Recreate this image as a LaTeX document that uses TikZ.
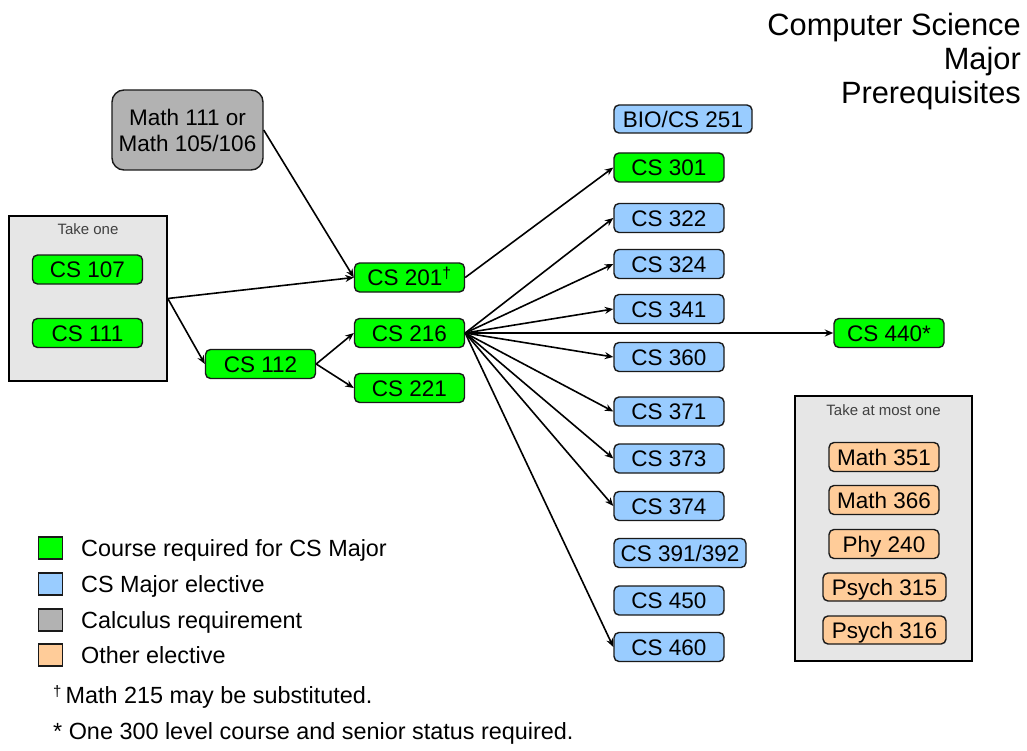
\documentclass[tikz,border=0pt]{standalone}
\usepackage{fontspec}
\setmainfont{Liberation Sans}
\usetikzlibrary{arrows.meta}

\definecolor{reqgreen}{HTML}{00FF00}
\definecolor{elecblue}{HTML}{99CCFF}
\definecolor{calcgray}{HTML}{B2B2B2}
\definecolor{othertan}{HTML}{FFCC99}
\definecolor{panelgray}{HTML}{E6E6E6}
\definecolor{edgeink}{HTML}{1A1A1A}

\begin{document}
\begin{tikzpicture}[x=1pt,y=-1pt,
  course/.style={draw=edgeink, line width=1.4pt, rounded corners=5pt, inner sep=0pt,
    minimum width=110pt, minimum height=29pt, text height=16.1pt, text depth=0pt,
    font=\fontsize{22.5}{26}\selectfont},
  req/.style={course, fill=reqgreen},
  elec/.style={course, fill=elecblue},
  other/.style={course, fill=othertan},
  panel/.style={draw=black, line width=1.6pt, fill=panelgray, inner sep=0pt},
  paneltitle/.style={font=\fontsize{15}{18}\selectfont, text=black!75, inner sep=0pt},
  link/.style={line width=1.6pt, -{Stealth[length=8.5pt,width=7pt]}},
  keybox/.style={draw=edgeink, line width=1.4pt, minimum width=24pt, minimum height=22pt, inner sep=0pt},
  keytext/.style={anchor=base west, inner sep=0pt, font=\fontsize{23.4}{27}\selectfont},
  titletext/.style={anchor=base east, inner sep=0pt, font=\fontsize{30.8}{34}\selectfont}
]
% page
\fill[white] (0,0) rectangle (1027,751);
\useasboundingbox (0,0) rectangle (1027,751);

% title
\node[titletext] (title1) at (1021,36) {Computer Science};
\node[titletext] (title2) at (1021,70) {Major};
\node[titletext] (title3) at (1021,104) {Prerequisites};

% calculus requirement
\node[draw=edgeink, line width=1.4pt, rounded corners=12pt, fill=calcgray, inner sep=0pt,
  minimum width=151pt, minimum height=80pt, align=center,
  font=\fontsize{22.5}{26}\selectfont] (math) at (187.5,130) {Math 111 or\\Math 105/106};

% introductory choice
\node[panel, minimum width=158pt, minimum height=165pt] (takeone) at (88,298.5) {};
\node[paneltitle] (takeonelabel) at (88,229) {Take one};
\node[req] (cs107) at (87.5,269.5) {CS 107};
\node[req] (cs111) at (87.5,333) {CS 111};

% core sequence
\node[req] (cs112) at (260.5,364) {CS 112};
\node[req] (cs201) at (409.5,277.5) {CS 201\textsuperscript{†}};
\node[req] (cs216) at (409.5,333) {CS 216};
\node[req] (cs221) at (409.5,388) {CS 221};

% upper-level courses
\node[elec, minimum width=138pt, minimum height=28pt] (bio251) at (683,119) {BIO/CS 251};
\node[req] (cs301) at (669,167.5) {CS 301};
\node[elec] (cs322) at (669,218) {CS 322};
\node[elec] (cs324) at (669,264) {CS 324};
\node[elec] (cs341) at (669,309) {CS 341};
\node[elec] (cs360) at (669,357) {CS 360};
\node[elec] (cs371) at (669,411.5) {CS 371};
\node[elec] (cs373) at (669,458.5) {CS 373};
\node[elec] (cs374) at (669,506) {CS 374};
\node[elec, minimum width=132pt] (cs391) at (680,553) {CS 391/392};
\node[elec] (cs450) at (669,600.5) {CS 450};
\node[elec] (cs460) at (669,647) {CS 460};
\node[req] (cs440) at (889,333) {CS 440*};

% outside electives
\node[panel, minimum width=177pt, minimum height=265pt] (atmost) at (883.5,528.5) {};
\node[paneltitle] (atmostlabel) at (883.5,410) {Take at most one};
\node[other] (math351) at (884,457) {Math 351};
\node[other] (math366) at (884,500) {Math 366};
\node[other] (phy240) at (884,544) {Phy 240};
\node[other, minimum width=123pt, minimum height=28pt] (psych315) at (884.5,587) {Psych 315};
\node[other, minimum width=123pt, minimum height=28pt] (psych316) at (884.5,630) {Psych 316};

% prerequisite links
\draw[link] (math.east) -- (cs201.west);
\draw[link] (takeone.east) -- (cs201.west);
\draw[link] (takeone.east) -- (cs112.west);
\draw[link] (cs112.east) -- (cs216.west);
\draw[link] (cs112.east) -- (cs221.west);
\draw[link] (cs201.east) -- (cs301.west);
\foreach \t in {cs322,cs324,cs341,cs360,cs371,cs373,cs374,cs460,cs440}
  \draw[link] (cs216.east) -- (\t.west);

% legend
\node[keybox, fill=reqgreen] (keyreq) at (50.5,548) {};
\node[keybox, fill=elecblue] (keyelec) at (50.5,584) {};
\node[keybox, fill=calcgray] (keycalc) at (50.5,620) {};
\node[keybox, fill=othertan] (keyother) at (50.5,655) {};
\node[keytext] (keyreqtext) at (81,556) {Course required for CS Major};
\node[keytext] (keyelectext) at (81,592) {CS Major elective};
\node[keytext] (keycalctext) at (81,628) {Calculus requirement};
\node[keytext] (keyothertext) at (81,663) {Other elective};

% footnotes
\node[keytext] (notedagger) at (53,703) {{\fontsize{15}{18}\selectfont\raisebox{7pt}{†}}\hspace{4pt}Math 215 may be substituted.};
\node[keytext] (notestar) at (53,739) {* One 300 level course and senior status required.};
\end{tikzpicture}
\end{document}
